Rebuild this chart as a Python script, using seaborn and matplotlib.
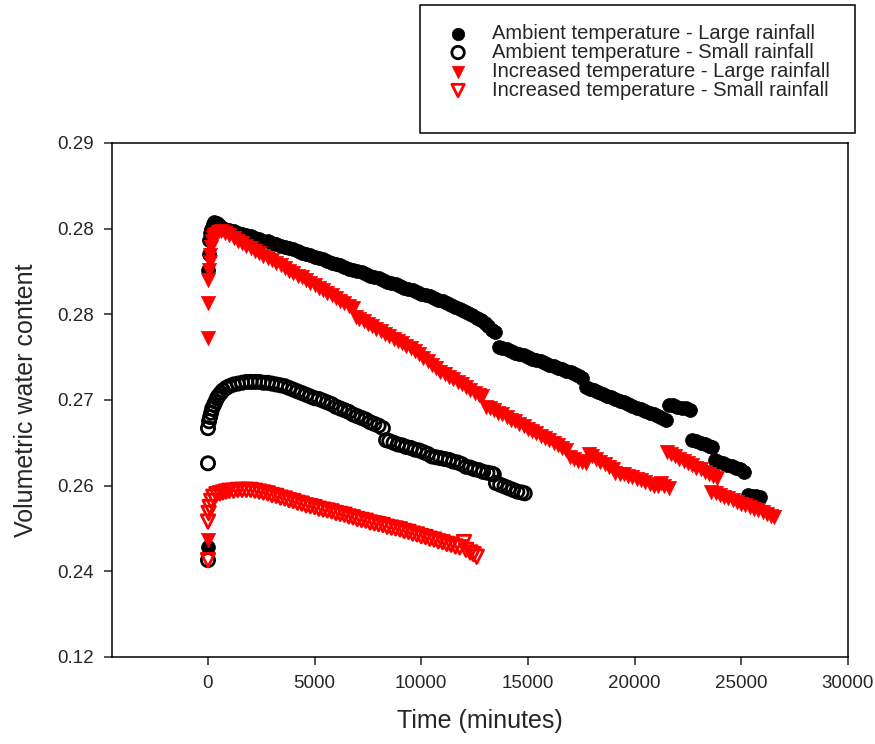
import matplotlib
matplotlib.use('Agg')
import matplotlib.pyplot as plt
from matplotlib.patches import Rectangle
import pandas as pd
import seaborn as sns

# ambient temperature - large rainfall
amb_large_t = [0, 0, 30, 60, 100, 150, 220, 300, 400, 500, 600, 800, 1000, 1200, 1400, 1600, 1800,
               2000, 2200, 2400, 2600, 2800, 3000, 3200, 3400, 3600, 3800, 4000, 4200, 4400, 4600,
               4800, 5000, 5200, 5400, 5600, 5800, 6000, 6200, 6400, 6600, 6800, 7000, 7200, 7400,
               7600, 7800, 8000, 8200, 8400, 8600, 8800, 9000, 9200, 9400, 9600, 9800, 10000,
               10200, 10400, 10600, 10800, 11000, 11200, 11400, 11600, 11800, 12000, 12200,
               12400, 12600, 12800, 13000, 13150, 13300, 13450,
               13650, 13800, 14000, 14200, 14400, 14600, 14800, 15000, 15200, 15400, 15600,
               15800, 16000, 16200, 16400, 16600, 16800, 17000, 17200, 17400, 17550,
               17700, 17900, 18100, 18300, 18500, 18700, 18900, 19100, 19300, 19500, 19700,
               19900, 20100, 20300, 20500, 20700, 20900, 21100, 21300, 21450,
               21600, 21800, 22000, 22200, 22400, 22600,
               22700, 22900, 23100, 23300, 23500, 23650,
               23750, 23950, 24150, 24350, 24550, 24750, 24950, 25150,
               25300, 25500, 25700, 25900]
amb_large_v = [0.2428, 0.2752, 0.2770, 0.2787, 0.2795, 0.2800, 0.2805, 0.2808, 0.2806, 0.2804,
               0.2802, 0.2800, 0.2798, 0.2797, 0.2795, 0.2794, 0.2792, 0.2791, 0.2789, 0.2788,
               0.2786, 0.2785, 0.2783, 0.2782, 0.2780, 0.2779, 0.2777, 0.2776, 0.2774, 0.2772,
               0.2770, 0.2769, 0.2767, 0.2766, 0.2764, 0.2762, 0.2760, 0.2759, 0.2757, 0.2755,
               0.2753, 0.2752, 0.2750, 0.2749, 0.2747, 0.2745, 0.2743, 0.2742, 0.2740, 0.2738,
               0.2736, 0.2735, 0.2733, 0.2731, 0.2729, 0.2728, 0.2726, 0.2724, 0.2722, 0.2721,
               0.2719, 0.2717, 0.2715, 0.2713, 0.2711, 0.2709, 0.2706, 0.2704, 0.2701, 0.2699,
               0.2696, 0.2693, 0.2690, 0.2686, 0.2682, 0.2679,
               0.2662, 0.2661, 0.2659, 0.2657, 0.2655, 0.2654, 0.2652, 0.2650, 0.2648, 0.2647,
               0.2645, 0.2643, 0.2641, 0.2639, 0.2637, 0.2636, 0.2634, 0.2632, 0.2630, 0.2628,
               0.2626,
               0.2615, 0.2613, 0.2611, 0.2609, 0.2607, 0.2605, 0.2603, 0.2601, 0.2599, 0.2597,
               0.2595, 0.2593, 0.2591, 0.2589, 0.2587, 0.2585, 0.2583, 0.2581, 0.2579, 0.2577,
               0.2594, 0.2594, 0.2592, 0.2591, 0.2590, 0.2588,
               0.2553, 0.2552, 0.2550, 0.2548, 0.2546, 0.2545,
               0.2530, 0.2528, 0.2526, 0.2524, 0.2523, 0.2521, 0.2519, 0.2516,
               0.2489, 0.2488, 0.2488, 0.2487]

# ambient temperature - small rainfall
amb_small_t = [0, 0, 0, 50, 100, 150, 200, 280, 350, 420, 500, 600, 700, 850, 1000, 1200, 1400,
               1600, 1800, 2000, 2200, 2400, 2600, 2800, 3000, 3200, 3400, 3600, 3800, 4000, 4200,
               4400, 4600, 4800, 5000, 5200, 5400, 5600, 5800, 6000, 6200, 6400, 6600, 6800, 7000,
               7200, 7400, 7600, 7800, 8000, 8200,
               8350, 8500, 8700, 8900, 9100, 9300, 9500, 9700, 9900, 10100, 10300, 10500, 10700,
               10900, 11100, 11300, 11500, 11700, 11900, 12100, 12300, 12500, 12700, 12900,
               13100, 13300, 13400,
               13500, 13700, 13900, 14100, 14300, 14500, 14700, 14850]
amb_small_v = [0.2413, 0.2526, 0.2567, 0.2575, 0.2580, 0.2585, 0.2590, 0.2594, 0.2598, 0.2602,
               0.2605, 0.2608, 0.2611, 0.2614, 0.2616, 0.2618, 0.2619, 0.2620, 0.2621, 0.2621,
               0.2621, 0.2621, 0.2620, 0.2620, 0.2619, 0.2618, 0.2617, 0.2616, 0.2614, 0.2612,
               0.2610, 0.2608, 0.2606, 0.2604, 0.2602, 0.2601, 0.2599, 0.2597, 0.2595, 0.2592,
               0.2590, 0.2588, 0.2586, 0.2583, 0.2581, 0.2579, 0.2577, 0.2574, 0.2572, 0.2570,
               0.2567,
               0.2553, 0.2552, 0.2550, 0.2548, 0.2547, 0.2545, 0.2544, 0.2542, 0.2541, 0.2539,
               0.2537, 0.2534, 0.2533, 0.2532, 0.2531, 0.2530, 0.2528, 0.2527, 0.2525, 0.2522,
               0.2521, 0.2519, 0.2518, 0.2516, 0.2515, 0.2514, 0.2513,
               0.2503, 0.2501, 0.2499, 0.2497, 0.2495, 0.2493, 0.2492, 0.2491]

# increased temperature - large rainfall
inc_large_t = [0, 0, 0, 20, 50, 80, 110, 150, 200, 250, 300, 380, 450, 600, 800, 1000, 1200,
               1400, 1600, 1800, 2000, 2200, 2400, 2600, 2800, 3000, 3200, 3400, 3600, 3800, 4000,
               4200, 4400, 4600, 4800, 5000, 5200, 5400, 5600, 5800, 6000, 6200, 6400, 6600, 6800,
               6950, 7100, 7300, 7500, 7700, 7900, 8100, 8300, 8500, 8700, 8900, 9100, 9300, 9500,
               9700, 9900, 10100, 10300, 10500, 10700, 10900, 11100, 11300, 11500, 11700, 11900,
               12100, 12300, 12500, 12700, 12850,
               13050, 13200, 13400, 13600, 13800, 14000, 14200, 14400, 14600, 14800, 15000,
               15200, 15400, 15600, 15800, 16000, 16200, 16400, 16600, 16800,
               16950, 17150, 17350, 17550, 17700, 17850, 18000, 18200, 18400, 18600, 18800,
               19000, 19100, 19300, 19500, 19700, 19900, 20100, 20300, 20500, 20700, 20900,
               21100, 21250, 21400, 21600,
               21500, 21700, 21900, 22100, 22300, 22500, 22700, 22900, 23100, 23300, 23500,
               23700, 23850,
               23600, 23800, 24000, 24200, 24400, 24600, 24800, 25000, 25200, 25400, 25600,
               25800, 26000, 26200, 26400, 26550]
inc_large_v = [0.2437, 0.2672, 0.2713, 0.2740, 0.2752, 0.2761, 0.2769, 0.2778, 0.2786, 0.2790,
               0.2792, 0.2794, 0.2796, 0.2797, 0.2795, 0.2792, 0.2789, 0.2786, 0.2783, 0.2780,
               0.2777, 0.2774, 0.2771, 0.2768, 0.2766, 0.2763, 0.2760, 0.2757, 0.2754, 0.2751,
               0.2748, 0.2745, 0.2743, 0.2740, 0.2737, 0.2734, 0.2731, 0.2728, 0.2725, 0.2722,
               0.2719, 0.2716, 0.2713, 0.2710, 0.2707,
               0.2697, 0.2695, 0.2692, 0.2689, 0.2686, 0.2683, 0.2680, 0.2677, 0.2674, 0.2671,
               0.2669, 0.2666, 0.2663, 0.2660, 0.2657, 0.2653, 0.2649, 0.2645, 0.2641, 0.2637,
               0.2633, 0.2630, 0.2627, 0.2624, 0.2621, 0.2618, 0.2615, 0.2611, 0.2608, 0.2606,
               0.2604,
               0.2592, 0.2590, 0.2588, 0.2585, 0.2583, 0.2580, 0.2577, 0.2575, 0.2572, 0.2569,
               0.2566, 0.2564, 0.2561, 0.2558, 0.2555, 0.2553, 0.2550, 0.2547, 0.2544, 0.2542,
               0.2533, 0.2531, 0.2529, 0.2527, 0.2526, 0.2537, 0.2534, 0.2531, 0.2528, 0.2525,
               0.2522, 0.2519, 0.2515, 0.2514, 0.2513, 0.2511, 0.2510, 0.2508, 0.2506, 0.2504,
               0.2502, 0.2500, 0.2499, 0.2503, 0.2500, 0.2497,
               0.2539, 0.2537, 0.2534, 0.2531, 0.2529, 0.2526, 0.2524, 0.2521, 0.2519, 0.2516,
               0.2514, 0.2511, 0.2509,
               0.2493, 0.2491, 0.2489, 0.2487, 0.2485, 0.2483, 0.2481, 0.2479, 0.2477, 0.2475,
               0.2473, 0.2471, 0.2469, 0.2467, 0.2465, 0.2463]

# increased temperature - small rainfall
inc_small_t = [0, 0, 30, 80, 150, 250, 400, 550, 700, 850, 1000, 1200, 1400, 1600, 1800, 2000,
               2200, 2400, 2600, 2800, 3000, 3200, 3400, 3600, 3800, 4000, 4200, 4400, 4600, 4800,
               5000, 5200, 5400, 5600, 5800, 6000, 6200, 6400, 6600, 6800, 7000, 7200, 7400, 7600,
               7800, 8000, 8200, 8400, 8600, 8800, 9000, 9200, 9400, 9600, 9800, 10000, 10200,
               10400, 10600, 10800, 11000, 11200, 11400, 11600, 11800, 12000, 12100, 12300,
               12450, 12600]
inc_small_v = [0.2413, 0.2458, 0.2468, 0.2475, 0.2482, 0.2487, 0.2490, 0.2491, 0.2492, 0.2493,
               0.2494, 0.2494, 0.2495, 0.2495, 0.2495, 0.2495, 0.2494, 0.2493, 0.2492, 0.2491,
               0.2489, 0.2488, 0.2486, 0.2485, 0.2483, 0.2482, 0.2480, 0.2479, 0.2477, 0.2476,
               0.2475, 0.2473, 0.2472, 0.2471, 0.2470, 0.2468, 0.2467, 0.2466, 0.2464, 0.2463,
               0.2461, 0.2460, 0.2459, 0.2457, 0.2456, 0.2455, 0.2454, 0.2452, 0.2451, 0.2450,
               0.2449, 0.2447, 0.2446, 0.2444, 0.2443, 0.2441, 0.2440, 0.2438, 0.2437, 0.2435,
               0.2434, 0.2432, 0.2431, 0.2429, 0.2428, 0.2434, 0.2425, 0.2422, 0.2420, 0.2417]

# axis ticks as printed on the original chart
y_tick_pos = [0.23, 0.24, 0.25, 0.26, 0.27, 0.28, 0.29]
y_tick_labels = ['0.12', '0.24', '0.26', '0.27', '0.28', '0.28', '0.29']
x_ticks = [0, 5000, 10000, 15000, 20000, 25000, 30000]

sns.set_style('ticks')
plt.rcParams['font.family'] = ['Liberation Sans', 'DejaVu Sans']

fig = plt.figure(figsize=(8.75, 7.44), dpi=100)
ax = fig.add_axes([0.128, 0.117, 0.841, 0.691])

df_al = pd.DataFrame({'t': amb_large_t, 'v': amb_large_v})
df_as = pd.DataFrame({'t': amb_small_t, 'v': amb_small_v})
df_il = pd.DataFrame({'t': inc_large_t, 'v': inc_large_v})
df_is = pd.DataFrame({'t': inc_small_t, 'v': inc_small_v})

sns.scatterplot(data=df_al, x='t', y='v', ax=ax, marker='o', s=100, color='black',
                edgecolor='black', linewidth=0.5, label='Ambient temperature - Large rainfall')
sns.scatterplot(data=df_as, x='t', y='v', ax=ax, marker='o', s=90, facecolors='none',
                edgecolor='black', linewidth=2.0, label='Ambient temperature - Small rainfall')
sns.scatterplot(data=df_il, x='t', y='v', ax=ax, marker='v', s=105, color='#ff0000',
                edgecolor='#ff0000', linewidth=0.5, label='Increased temperature - Large rainfall')
sns.scatterplot(data=df_is, x='t', y='v', ax=ax, marker='v', s=95, facecolors='none',
                edgecolor='#ff0000', linewidth=2.0, label='Increased temperature - Small rainfall')

ax.set_xlim(-4500, 30000)
ax.set_ylim(0.23, 0.29)
ax.set_xticks(x_ticks)
ax.set_yticks(y_tick_pos)
ax.set_yticklabels(y_tick_labels)
ax.tick_params(axis='both', labelsize=13.5, length=6, width=1.1, direction='out', pad=7)
for sp in ax.spines.values():
    sp.set_linewidth(1.1)
    sp.set_color('black')
ax.set_xlabel('Time (minutes)', fontsize=18, labelpad=12)
ax.set_ylabel('Volumetric water content', fontsize=18, labelpad=14)

# legend sits above the axes in a plain box
handles, labels = ax.get_legend_handles_labels()
ax.get_legend().remove()
leg = fig.legend(handles, labels, loc='upper left', bbox_to_anchor=(448 / 875, 0.968),
                 fontsize=14.5, frameon=False, handlelength=1.0, handletextpad=1.2,
                 labelspacing=0.0, borderpad=0, borderaxespad=0)
for h in leg.legend_handles:
    h.set_sizes([80])
fig.add_artist(Rectangle((420 / 875, 1 - 133 / 744), 435 / 875, 128 / 744,
                         transform=fig.transFigure, fill=False, lw=1.1, ec='black'))

fig.savefig('out.png', dpi=100)
